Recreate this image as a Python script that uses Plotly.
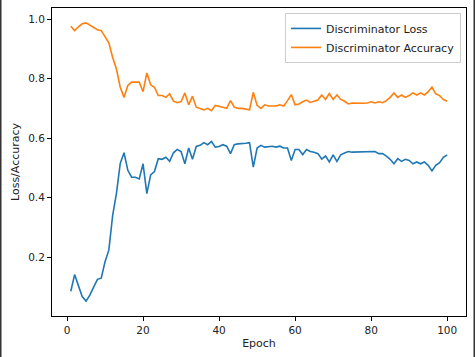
import plotly.graph_objects as go

epochs = list(range(1, 101))

disc_loss = [
    0.086, 0.142, 0.105, 0.068, 0.053, 0.073, 0.100, 0.126, 0.130, 0.185,
    0.224, 0.340, 0.415, 0.515, 0.551, 0.492, 0.469, 0.469, 0.463, 0.514,
    0.414, 0.477, 0.488, 0.531, 0.529, 0.536, 0.522, 0.551, 0.562, 0.555,
    0.514, 0.567, 0.529, 0.572, 0.576, 0.585, 0.578, 0.589, 0.570, 0.572,
    0.578, 0.573, 0.548, 0.578, 0.581, 0.581, 0.583, 0.585, 0.503, 0.567,
    0.576, 0.570, 0.572, 0.573, 0.570, 0.573, 0.567, 0.567, 0.525, 0.562,
    0.562, 0.545, 0.562, 0.555, 0.553, 0.548, 0.530, 0.540, 0.520, 0.544,
    0.522, 0.544, 0.550, 0.555, 0.553, 0.553, 0.555, 0.553, 0.555, 0.553,
    0.555, 0.548, 0.548, 0.540, 0.529, 0.514, 0.531, 0.522, 0.529, 0.525,
    0.514, 0.520, 0.514, 0.520, 0.509, 0.490, 0.509, 0.518, 0.536, 0.544,
]

disc_acc = [
    0.976, 0.961, 0.974, 0.984, 0.987, 0.980, 0.972, 0.964, 0.961, 0.938,
    0.920, 0.871, 0.832, 0.771, 0.737, 0.777, 0.788, 0.788, 0.788, 0.756,
    0.819, 0.779, 0.771, 0.743, 0.743, 0.737, 0.749, 0.724, 0.719, 0.723,
    0.752, 0.712, 0.741, 0.704, 0.700, 0.695, 0.700, 0.692, 0.710, 0.708,
    0.704, 0.700, 0.726, 0.704, 0.700, 0.700, 0.698, 0.695, 0.754, 0.710,
    0.700, 0.712, 0.708, 0.708, 0.708, 0.712, 0.708, 0.726, 0.746, 0.712,
    0.715, 0.722, 0.728, 0.720, 0.724, 0.728, 0.745, 0.730, 0.750, 0.730,
    0.745, 0.730, 0.724, 0.715, 0.718, 0.717, 0.717, 0.717, 0.718, 0.722,
    0.718, 0.722, 0.719, 0.726, 0.737, 0.752, 0.737, 0.745, 0.737, 0.743,
    0.752, 0.745, 0.752, 0.745, 0.756, 0.771, 0.749, 0.743, 0.730, 0.724,
]

x_ticks = [0, 20, 40, 60, 80, 100]
y_ticks = [0.2, 0.4, 0.6, 0.8, 1.0]
y_tick_text = ["0.2", "0.4", "0.6", "0.8", "1.0"]

FONT = "DejaVu Sans, Liberation Sans, sans-serif"

fig = go.Figure()
fig.add_trace(go.Scatter(x=epochs, y=disc_loss, mode="lines", name="Discriminator Loss",
                         line=dict(color="#1f77b4", width=1.6)))
fig.add_trace(go.Scatter(x=epochs, y=disc_acc, mode="lines", name="Discriminator Accuracy",
                         line=dict(color="#ff7f0e", width=1.6)))

axis_common = dict(
    showline=True, linecolor="black", linewidth=1, mirror=True,
    ticks="outside", ticklen=4, tickwidth=1, tickcolor="black",
    showgrid=False, zeroline=False, automargin=False,
    tickfont=dict(family=FONT, size=10.5, color="#222222"),
)

fig.update_xaxes(range=[-3.95, 104.95], tickvals=x_ticks,
                 title=dict(text="Epoch", font=dict(family=FONT, size=11, color="#222222"), standoff=4),
                 **axis_common)
fig.update_yaxes(range=[0.003, 1.037], tickvals=y_ticks, ticktext=y_tick_text,
                 title=dict(text="Loss/Accuracy", font=dict(family=FONT, size=11, color="#222222"), standoff=6),
                 **axis_common)

fig.update_layout(
    template="none",
    width=475, height=357,
    margin=dict(l=52, r=9, t=8, b=41, autoexpand=False),
    paper_bgcolor="white", plot_bgcolor="white",
    font=dict(family=FONT, size=10.5, color="#222222"),
    showlegend=True,
    legend=dict(x=0.988, y=0.984, xanchor="right", yanchor="top",
                bgcolor="rgba(255,255,255,0.85)", bordercolor="#cccccc", borderwidth=1,
                font=dict(family=FONT, size=11, color="#222222"),
                tracegroupgap=0, itemwidth=30),
    shapes=[
        dict(type="line", xref="paper", yref="paper", x0=-52/414, x1=-52/414,
             y0=-41/308, y1=1 + 8/308, line=dict(color="#333333", width=3)),
        dict(type="line", xref="paper", yref="paper", x0=1 + 9/414, x1=1 + 9/414,
             y0=-41/308, y1=1 + 8/308, line=dict(color="#333333", width=3)),
    ],
)

fig.write_html("out.html",
               config={"displayModeBar": False},
               post_script="document.body.style.margin='0';document.body.style.overflow='hidden';")
